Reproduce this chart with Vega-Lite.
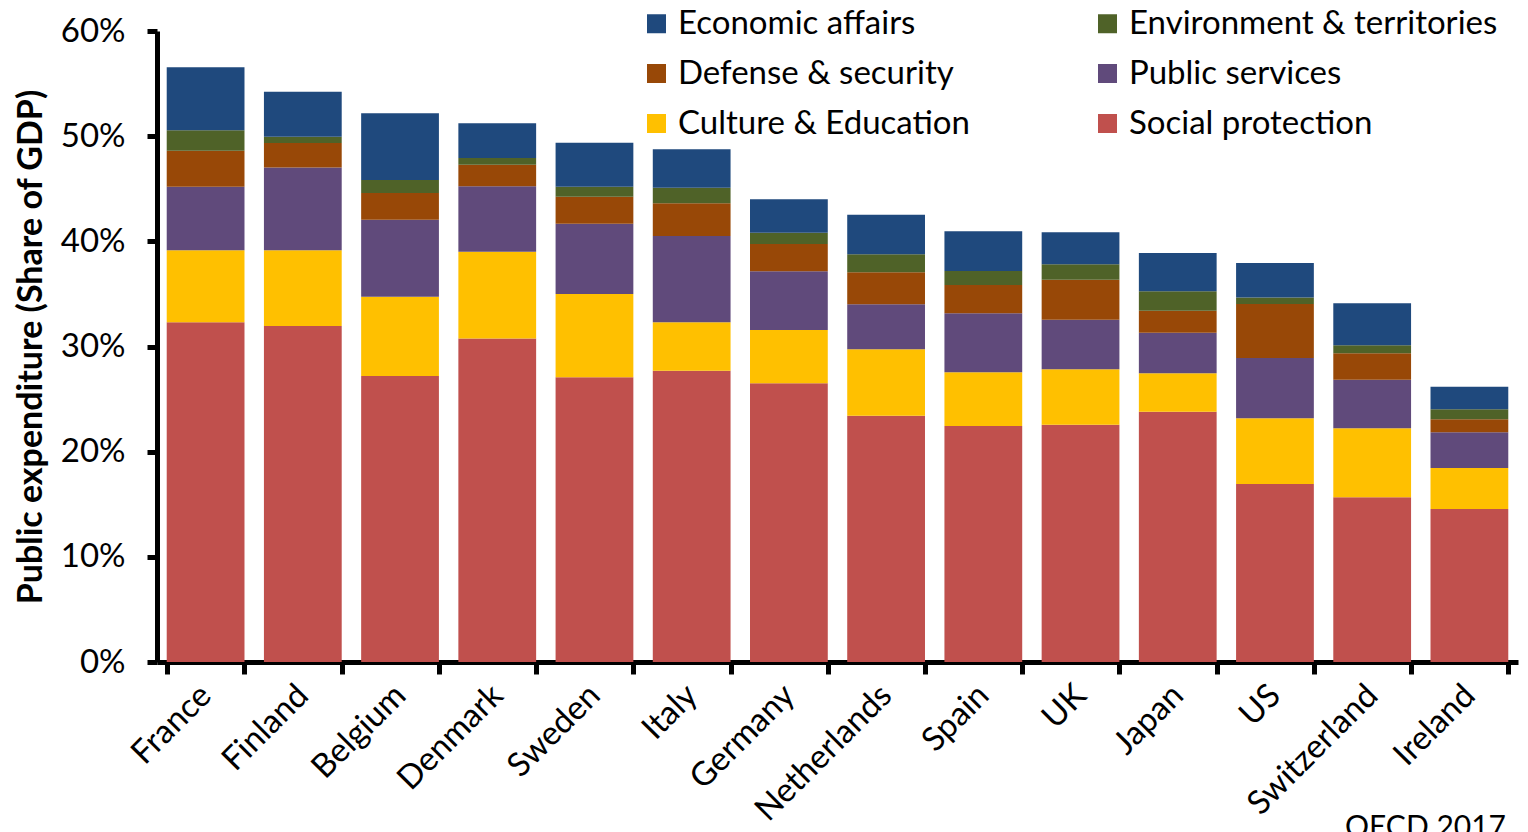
{
  "$schema": "https://vega.github.io/schema/vega-lite/v6.json",
  "width": 1361,
  "height": 631,
  "autosize": "none",
  "padding": {"left": 157, "top": 31, "right": 10, "bottom": 170},
  "background": "white",
  "config": {"view": {"stroke": null}},
  "title": {"text": "OECD 2017", "orient": "bottom", "anchor": "end", "frame": "group", "fontSize": 30, "font": "Lato", "fontWeight": "normal", "color": "black", "offset": -14, "dx": -12},
  "data": {"values": [
    {"country": "France", "Social protection": 32.3, "Culture & Education": 6.85, "Public services": 6.05, "Defense & security": 3.42, "Environment & territories": 1.94, "Economic affairs": 5.99},
    {"country": "Finland", "Social protection": 31.95, "Culture & Education": 7.2, "Public services": 7.88, "Defense & security": 2.32, "Environment & territories": 0.6, "Economic affairs": 4.28},
    {"country": "Belgium", "Social protection": 27.2, "Culture & Education": 7.54, "Public services": 7.32, "Defense & security": 2.54, "Environment & territories": 1.23, "Economic affairs": 6.34},
    {"country": "Denmark", "Social protection": 30.75, "Culture & Education": 8.27, "Public services": 6.21, "Defense & security": 2.06, "Environment & territories": 0.63, "Economic affairs": 3.3},
    {"country": "Sweden", "Social protection": 27.07, "Culture & Education": 7.92, "Public services": 6.69, "Defense & security": 2.57, "Environment & territories": 0.95, "Economic affairs": 4.18},
    {"country": "Italy", "Social protection": 27.7, "Culture & Education": 4.6, "Public services": 8.2, "Defense & security": 3.11, "Environment & territories": 1.49, "Economic affairs": 3.65},
    {"country": "Germany", "Social protection": 26.5, "Culture & Education": 5.07, "Public services": 5.58, "Defense & security": 2.59, "Environment & territories": 1.08, "Economic affairs": 3.17},
    {"country": "Netherlands", "Social protection": 23.42, "Culture & Education": 6.31, "Public services": 4.28, "Defense & security": 3.04, "Environment & territories": 1.71, "Economic affairs": 3.77},
    {"country": "Spain", "Social protection": 22.44, "Culture & Education": 5.1, "Public services": 5.61, "Defense & security": 2.7, "Environment & territories": 1.33, "Economic affairs": 3.77},
    {"country": "UK", "Social protection": 22.57, "Culture & Education": 5.26, "Public services": 4.72, "Defense & security": 3.8, "Environment & territories": 1.46, "Economic affairs": 3.05},
    {"country": "Japan", "Social protection": 23.8, "Culture & Education": 3.65, "Public services": 3.86, "Defense & security": 2.1, "Environment & territories": 1.84, "Economic affairs": 3.64},
    {"country": "US", "Social protection": 16.93, "Culture & Education": 6.24, "Public services": 5.74, "Defense & security": 5.13, "Environment & territories": 0.61, "Economic affairs": 3.29},
    {"country": "Switzerland", "Social protection": 15.66, "Culture & Education": 6.56, "Public services": 4.63, "Defense & security": 2.5, "Environment & territories": 0.76, "Economic affairs": 4.0},
    {"country": "Ireland", "Social protection": 14.55, "Culture & Education": 3.9, "Public services": 3.39, "Defense & security": 1.24, "Environment & territories": 0.95, "Economic affairs": 2.15}
  ]},
  "transform": [
    {"fold": ["Social protection", "Culture & Education", "Public services", "Defense & security", "Environment & territories", "Economic affairs"], "as": ["category", "value"]},
    {"calculate": "indexof(['Social protection', 'Culture & Education', 'Public services', 'Defense & security', 'Environment & territories', 'Economic affairs'], datum.category)", "as": "stackRank"}
  ],
  "mark": {"type": "bar"},
  "encoding": {
    "x": {
      "field": "country", "type": "nominal", "sort": null,
      "scale": {"paddingInner": 0.2, "paddingOuter": 0.1},
      "axis": {
        "title": null, "labelAngle": -45, "labelAlign": "right", "labelBaseline": "middle",
        "labelFontSize": 33, "labelFont": "Lato", "labelColor": "black", "labelPadding": 16,
        "domainColor": "black", "domainWidth": 5, "ticks": true, "tickBand": "extent",
        "tickSize": 12, "tickWidth": 5, "tickColor": "black", "grid": false
      }
    },
    "y": {
      "field": "value", "type": "quantitative", "stack": "zero",
      "scale": {"domain": [0, 60], "nice": false},
      "axis": {
        "title": "Public expenditure (Share of GDP)", "titleFont": "Lato", "titleFontSize": 34, "titleFontWeight": "bold", "titleColor": "black", "titlePadding": 12,
        "values": [0, 10, 20, 30, 40, 50, 60], "labelExpr": "datum.value + '%'",
        "labelFontSize": 33, "labelFont": "Lato", "labelColor": "black", "labelPadding": 22,
        "domainColor": "black", "domainWidth": 5, "tickColor": "black", "tickWidth": 5, "tickSize": 10, "grid": false
      }
    },
    "order": {"field": "stackRank", "type": "quantitative", "sort": "ascending"},
    "color": {
      "field": "category", "type": "nominal",
      "sort": ["Social protection", "Culture & Education", "Public services", "Defense & security", "Environment & territories", "Economic affairs"],
      "scale": {"range": ["#C0504D", "#FFC000", "#604A7B", "#984807", "#4F6228", "#1F497D"]},
      "legend": {
        "title": null, "orient": "none", "legendX": 483, "legendY": -24, "columns": 2, "direction": "horizontal",
        "values": ["Economic affairs", "Environment & territories", "Defense & security", "Public services", "Culture & Education", "Social protection"],
        "symbolType": "square", "symbolSize": 361, "symbolStrokeWidth": 0, "symbolOpacity": 1,
        "labelFontSize": 33, "labelFont": "Lato", "labelColor": "black", "labelOffset": 5, "labelLimit": 600,
        "columnPadding": 121, "rowPadding": 16, "padding": 0
      }
    }
  }
}
